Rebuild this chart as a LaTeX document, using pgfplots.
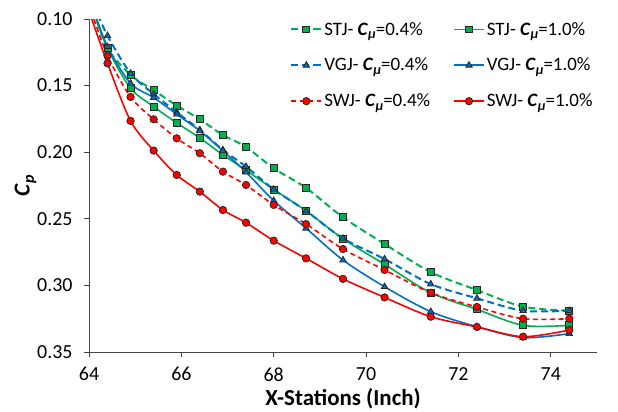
\documentclass[border=0pt]{standalone}
\usepackage{fontspec}
\setmainfont{Carlito}
\usepackage{pgfplots}
\pgfplotsset{compat=1.18}
\definecolor{cgreen}{RGB}{0,176,80}
\definecolor{cblue}{RGB}{0,112,192}
\definecolor{cred}{RGB}{255,0,0}
\definecolor{axgray}{RGB}{70,70,70}
\newcommand{\Cm}{\textbf{\textit{C}}\raisebox{-0.35ex}{\fontsize{14}{14}\selectfont\textbf{\textit{μ}}}}
\begin{document}
\begin{tikzpicture}
\useasboundingbox (-89bp,-60bp) rectangle (529bp,352bp);
\begin{axis}[
  at={(0,0)}, anchor=south west,
  width=508bp, height=333bp, scale only axis,
  xmin=64, xmax=75, ymin=0.10, ymax=0.35, y dir=reverse,
  xtick={64,66,68,70,72,74},
  ytick={0.10,0.15,0.20,0.25,0.30,0.35},
  axis x line*=bottom, axis y line*=left,
  axis line style={axgray, line width=0.9pt},
  tick style={axgray, line width=0.9pt},
  tick align=outside, major tick length=5bp,
  minor tick num=0,
  /pgf/number format/assume math mode=true,
  yticklabel style={/pgf/number format/fixed, /pgf/number format/fixed zerofill, /pgf/number format/precision=2, xshift=-8bp},
  ticklabel style={font=\fontsize{20}{20}\selectfont},
  xticklabel style={yshift=-7bp},
  xlabel={\textbf{X-Stations (Inch)}},
  ylabel={\textbf{\textit{C}}\raisebox{-0.4ex}{\fontsize{16}{16}\selectfont\textbf{\textit{p}}}},
  label style={font=\fontsize{23}{23}\selectfont},
  xlabel style={at={(axis description cs:0.5,-0.14)}, anchor=center},
  ylabel style={at={(axis description cs:-0.125,0.5)}, anchor=center},
  legend columns=2,
  legend cell align=left,
  legend style={draw=none, fill=none, inner sep=0pt,
    at={(axis description cs:0.396,1.0)}, anchor=north west, yshift=-1bp,
    font=\fontsize{19}{19}\selectfont,
    /tikz/every even column/.append style={column sep=21bp},
    row sep=17.5bp},
  legend image code/.code={\draw[mark repeat=2,mark phase=2] plot coordinates {(0bp,0bp) (15bp,0bp) (30bp,0bp)};},
  every axis plot/.append style={smooth},
]
% STJ 0.4
\addplot[cgreen, line width=2pt, dash pattern=on 7bp off 4bp, mark=square*, mark size=3.5pt, mark options={solid, draw=black!85, line width=0.8pt, fill=cgreen}] coordinates {
(64.1,0.094) (64.4,0.122) (64.9,0.142) (65.4,0.1535) (65.9,0.165) (66.4,0.1753) (66.9,0.1871) (67.4,0.1961) (68.0,0.2121) (68.7,0.2268) (69.5,0.2489) (70.4,0.2689) (71.4,0.2900) (72.4,0.3035) (73.4,0.3160) (74.4,0.3190)};
\addlegendentry{STJ- \Cm=0.4\%}
% STJ 1.0
\addplot[cgreen, line width=1.6pt, mark=square*, mark size=3.5pt, mark options={solid, draw=black!85, line width=0.8pt, fill=cgreen}] coordinates {
(64.1,0.094) (64.4,0.122) (64.9,0.152) (65.4,0.1658) (65.9,0.178) (66.4,0.1893) (66.9,0.202) (67.4,0.2135) (68.0,0.228) (68.7,0.244) (69.5,0.265) (70.4,0.2842) (71.4,0.3055) (72.4,0.3180) (73.4,0.3300) (74.4,0.3300)};
\addlegendentry{STJ- \Cm=1.0\%}
% VGJ 0.4
\addplot[cblue, line width=2pt, dash pattern=on 7bp off 4bp, mark=triangle*, mark size=3.7pt, mark options={solid, draw=black!85, line width=0.8pt, fill=cblue}] coordinates {
(64.1,0.089) (64.4,0.1125) (64.9,0.1408) (65.4,0.1563) (65.9,0.170) (66.4,0.1833) (66.9,0.1983) (67.4,0.2108) (68.0,0.2279) (68.7,0.2441) (69.5,0.2647) (70.4,0.2802) (71.4,0.2990) (72.4,0.3097) (73.4,0.3190) (74.4,0.3190)};
\addlegendentry{VGJ- \Cm=0.4\%}
% VGJ 1.0
\addplot[cblue, line width=1.6pt, mark=triangle*, mark size=3.7pt, mark options={solid, draw=black!85, line width=0.8pt, fill=cblue}] coordinates {
(64.1,0.093) (64.4,0.1208) (64.9,0.1483) (65.4,0.1590) (65.9,0.1715) (66.4,0.184) (66.9,0.199) (67.4,0.2150) (68.0,0.2364) (68.7,0.2571) (69.5,0.281) (70.4,0.301) (71.4,0.3197) (72.4,0.3310) (73.4,0.3392) (74.4,0.3362)};
\addlegendentry{VGJ- \Cm=1.0\%}
% SWJ 0.4
\addplot[cred, line width=1.6pt, dash pattern=on 5bp off 3.5bp, mark=*, mark size=3.7pt, mark options={solid, draw=black!85, line width=0.8pt, fill=cred}] coordinates {
(64.05,0.094) (64.4,0.1275) (64.9,0.1585) (65.4,0.1753) (65.9,0.1896) (66.4,0.2008) (66.9,0.2146) (67.4,0.2246) (68.0,0.2396) (68.7,0.2540) (69.5,0.2727) (70.4,0.2884) (71.4,0.3055) (72.4,0.3162) (73.4,0.3250) (74.4,0.3250)};
\addlegendentry{SWJ- \Cm=0.4\%}
% SWJ 1.0
\addplot[cred, line width=1.6pt, mark=*, mark size=3.7pt, mark options={solid, draw=black!85, line width=0.8pt, fill=cred}] coordinates {
(64.0,0.094) (64.4,0.1333) (64.9,0.1765) (65.4,0.1988) (65.9,0.2171) (66.4,0.2296) (66.9,0.2434) (67.4,0.2529) (68.0,0.2664) (68.7,0.2797) (69.5,0.2951) (70.4,0.3090) (71.4,0.3235) (72.4,0.3312) (73.4,0.3385) (74.4,0.3335)};
\addlegendentry{SWJ- \Cm=1.0\%}
\end{axis}
\end{tikzpicture}
\end{document}
